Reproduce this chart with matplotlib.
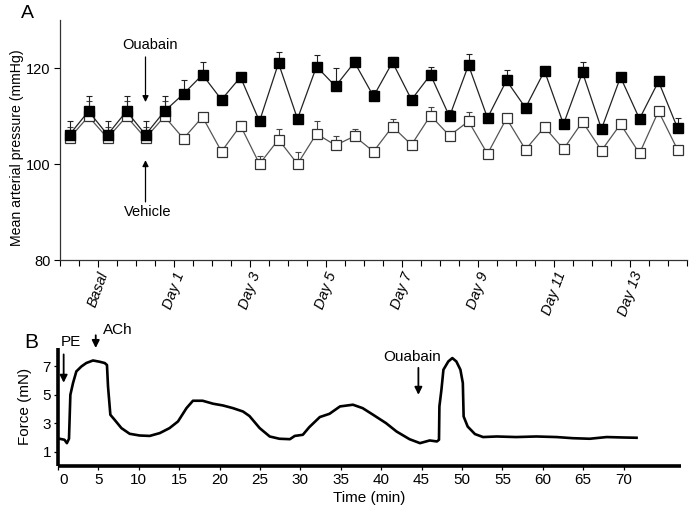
import matplotlib
matplotlib.use("Agg")
import matplotlib.pyplot as plt
import matplotlib.transforms as mtransforms
import numpy as np

plt.rcParams['font.family'] = ['Liberation Sans', 'DejaVu Sans']

# ---------------- Panel A data ----------------
day_labels = ['Basal', 'Day 1', 'Day 3', 'Day 5', 'Day 7', 'Day 9', 'Day 11', 'Day 13']
day_label_pos = [1.5, 5.5, 9.5, 13.5, 17.5, 21.5, 25.5, 29.5]

ouabain = [106.1, 111.0, 106.1, 111.0, 106.1, 111.0, 114.6, 118.6, 113.4, 118.1, 108.9,
           121.0, 109.4, 120.3, 116.2, 121.2, 114.1, 121.2, 113.4, 118.6, 109.9, 120.6,
           109.6, 117.4, 111.7, 119.4, 108.3, 119.1, 107.3, 118.1, 109.4, 117.2, 107.5]
ouabain_err = [2.8, 3.1, 2.8, 3.1, 2.8, 3.1, 3.0, 2.6, 0.5, 0.5, 0.5,
               2.3, 0.5, 2.5, 3.7, 1.1, 1.4, 1.1, 0.5, 1.7, 1.4, 2.4,
               0.5, 2.1, 0.5, 0.5, 0.5, 2.1, 0.5, 0.5, 0.5, 0.5, 2.1]
vehicle = [105.4, 109.9, 105.4, 109.9, 105.4, 109.9, 105.3, 109.8, 102.6, 108.0, 100.0,
           105.1, 100.0, 106.3, 103.9, 105.8, 102.6, 107.8, 104.0, 110.1, 105.9, 108.9,
           102.1, 109.5, 103.0, 107.7, 103.1, 108.8, 102.8, 108.3, 102.2, 111.0, 103.0]
vehicle_err = [2.4, 3.3, 2.4, 3.3, 2.4, 3.3, 0.5, 0.5, 0.5, 1.0, 1.6,
               2.2, 2.4, 2.7, 1.9, 1.5, 0.5, 1.5, 0.5, 1.7, 0.5, 1.9,
               0.5, 0.5, 0.5, 0.5, 0.5, 0.5, 0.5, 0.5, 0.5, 0.5, 0.5]

# ---------------- Panel B data ----------------
time_min = [0.2, 0.8, 1.1, 1.36, 1.53, 1.86, 2.27, 2.9, 3.5, 4.33, 5.16, 5.78, 6.06, 6.19,
            6.48, 7.0, 7.85, 8.87, 10.1, 11.35, 12.6, 13.8, 14.85, 15.9, 16.7, 17.9, 19.2,
            20.4, 21.65, 22.9, 23.7, 24.96, 26.2, 27.4, 28.7, 29.3, 30.3, 31.1, 32.4, 33.6,
            34.9, 36.5, 37.7, 39.0, 40.6, 41.9, 43.5, 44.8, 46.0, 46.9, 47.15, 47.2, 47.45,
            47.7, 48.3, 48.8, 49.3, 49.8, 50.1, 50.2, 50.7, 51.6, 52.6, 54.3, 56.7, 59.2,
            61.7, 63.7, 65.8, 67.9, 69.9, 71.6]
force = [1.9, 1.83, 1.59, 1.9, 5.0, 5.83, 6.65, 7.0, 7.24, 7.42, 7.33, 7.24, 7.1, 5.59,
         3.59, 3.24, 2.65, 2.25, 2.13, 2.1, 2.3, 2.65, 3.12, 4.06, 4.58, 4.58, 4.37,
         4.25, 4.06, 3.82, 3.5, 2.65, 2.06, 1.9, 1.87, 2.1, 2.18, 2.72, 3.43, 3.66,
         4.18, 4.3, 4.06, 3.59, 3.0, 2.41, 1.87, 1.59, 1.78, 1.71, 1.83, 4.18, 5.35,
         6.77, 7.35, 7.59, 7.35, 6.77, 5.83, 3.47, 2.76, 2.23, 2.02, 2.06, 2.02, 2.06,
         2.02, 1.94, 1.9, 2.02, 1.99, 1.97]
b_xticks = [0, 5, 10, 15, 20, 25, 30, 35, 40, 45, 50, 55, 60, 65, 70]
b_yticks = [1, 3, 5, 7]

W, H = 693, 509
fig = plt.figure(figsize=(W / 100, H / 100), dpi=100)

# ================= Panel A =================
axA = fig.add_axes([60 / W, 1 - 260 / H, (687 - 60) / W, 240 / H])
x = np.arange(len(ouabain))
zeros = np.zeros(len(ouabain))
axA.errorbar(x, vehicle, yerr=[zeros, vehicle_err], fmt='none', ecolor='#444444',
             elinewidth=0.8, capsize=2.5, capthick=0.8, zorder=1)
axA.errorbar(x, ouabain, yerr=[zeros, ouabain_err], fmt='none', ecolor='#222222',
             elinewidth=0.8, capsize=2.5, capthick=0.8, zorder=1)
axA.plot(x, vehicle, color='#555555', lw=0.9, marker='s', markersize=7.2,
         markerfacecolor='white', markeredgecolor='#333333', markeredgewidth=0.9, zorder=3)
axA.plot(x, ouabain, color='#222222', lw=0.9, marker='s', markersize=7.2,
         markerfacecolor='black', markeredgecolor='black', zorder=4)

axA.set_xlim(-0.5, len(ouabain) - 0.5)
axA.set_ylim(80, 130)
axA.set_yticks([80, 100, 120])
axA.set_xticks(day_label_pos)
axA.set_xticklabels(day_labels, rotation=70, fontstyle='italic', fontsize=10.5)
axA.set_xticks(np.arange(-0.5, len(ouabain) + 0.5, 1.0), minor=True)
axA.tick_params(axis='x', which='major', length=5, width=0.8, pad=2)
axA.tick_params(axis='x', which='minor', length=4, width=0.8)
axA.tick_params(axis='y', length=4, width=0.8, labelsize=10.5, pad=3)
for s in ['top', 'right']:
    axA.spines[s].set_visible(False)
for s in ['left', 'bottom']:
    axA.spines[s].set_linewidth(0.9)
    axA.spines[s].set_color('#333333')
axA.set_ylabel('Mean arterial pressure (mmHg)', fontsize=10.2)
axA.yaxis.set_label_coords(-0.058, 0.47)

axA.annotate('', xy=(4, 112.9), xytext=(4, 122.3),
             arrowprops=dict(arrowstyle='-|>', color='black', lw=0.9,
                             mutation_scale=9, shrinkA=0, shrinkB=0))
axA.text(4.25, 124.8, 'Ouabain', ha='center', va='center', fontsize=10.5)
axA.annotate('', xy=(4, 100.8), xytext=(4, 92.1),
             arrowprops=dict(arrowstyle='-|>', color='black', lw=0.9,
                             mutation_scale=9, shrinkA=0, shrinkB=0))
axA.text(4.1, 89.9, 'Vehicle', ha='center', va='center', fontsize=10.5)
fig.text(27 / W, 1 - 13 / H, 'A', fontsize=14, ha='center', va='center')

# ================= Panel B =================
axB = fig.add_axes([58 / W, 1 - 465.7 / H, 623 / W, 117.7 / H])
axB.plot(time_min, force, color='black', lw=1.9, solid_joinstyle='round')
axB.set_xlim(0, 77.1)
axB.set_ylim(0, 8.3)
axB.set_xticks(b_xticks)
axB.set_yticks(b_yticks)
axB.tick_params(axis='both', length=3, width=0.9, labelsize=11, pad=2)
for s in ['top', 'right']:
    axB.spines[s].set_visible(False)
for s in ['left', 'bottom']:
    axB.spines[s].set_linewidth(2.6)
    axB.spines[s].set_capstyle('butt')
# the "0" label sits a little right of the axis origin in the original
lab0 = axB.get_xticklabels()[0]
lab0.set_transform(lab0.get_transform() + mtransforms.ScaledTranslation(6 / 100, 0, fig.dpi_scale_trans))
axB.set_xlabel('Time (min)', fontsize=11, labelpad=3)
axB.set_ylabel('Force (mN)', fontsize=11)
axB.yaxis.set_label_coords(-0.042, 0.5)

arrow_kw = dict(arrowstyle='-|>', color='black', lw=1.3, mutation_scale=11, shrinkA=0, shrinkB=0)
axB.annotate('', xy=(0.7, 5.85), xytext=(0.7, 7.85), arrowprops=arrow_kw, annotation_clip=False)
axB.text(1.6, 8.7, 'PE', ha='center', va='center', fontsize=11)
axB.annotate('', xy=(4.67, 8.3), xytext=(4.67, 9.2), arrowprops=arrow_kw, annotation_clip=False)
axB.text(7.4, 9.55, 'ACh', ha='center', va='center', fontsize=11)
axB.annotate('', xy=(44.6, 5.0), xytext=(44.6, 6.9), arrowprops=arrow_kw, annotation_clip=False)
axB.text(43.8, 7.65, 'Ouabain', ha='center', va='center', fontsize=11)
fig.text(31 / W, 1 - 342 / H, 'B', fontsize=15, ha='center', va='center')

fig.savefig('out.png', dpi=100)
